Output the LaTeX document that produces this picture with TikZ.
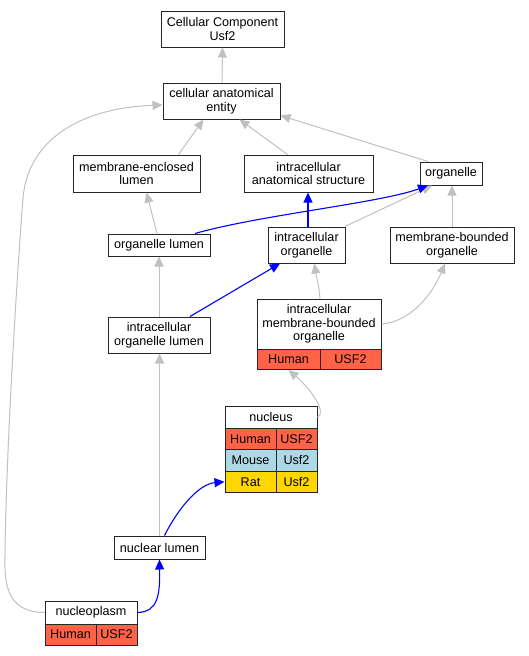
\documentclass[tikz,border=0pt]{standalone}
\usepackage{fontspec}
\setmainfont{Liberation Sans}
\usetikzlibrary{arrows.meta}
\definecolor{edgegray}{RGB}{192,192,192}
\definecolor{tomatored}{RGB}{255,99,71}
\definecolor{lblue}{RGB}{173,216,230}
\definecolor{goldy}{RGB}{255,215,0}
\begin{document}
\begin{tikzpicture}[x=1pt,y=-1pt,
  box/.style={draw=black!85, line width=1pt, fill=white, inner sep=0pt, align=center, font=\fontsize{12.6}{13.5}\selectfont},
  hcell/.style={box, fill=tomatored},
  mcell/.style={box, fill=lblue},
  rcell/.style={box, fill=goldy},
  gedge/.style={draw=edgegray, line width=1pt, -{Triangle[length=10pt,width=9pt]}},
  bedge/.style={draw=blue, line width=1.1pt, -{Triangle[length=10pt,width=9pt]}}]
\path[use as bounding box] (0,0) rectangle (529,656);

% plain nodes
\node[box, minimum width=123pt, minimum height=36pt] (cc) at (222.5,29) {Cellular Component\\Usf2};
\node[box, minimum width=117pt, minimum height=36pt] (cae) at (221.5,101) {cellular anatomical\\entity};
\node[box, minimum width=127pt, minimum height=37pt] (mel) at (136.5,173.5) {membrane-enclosed\\lumen};
\node[box, minimum width=129pt, minimum height=37pt] (ias) at (308.5,173.5) {intracellular\\anatomical structure};
\node[box, minimum width=62pt, minimum height=23pt] (org) at (451,173.5) {organelle};
\node[box, minimum width=102pt, minimum height=22pt] (ol) at (159,245) {organelle lumen};
\node[box, minimum width=77pt, minimum height=36pt] (io) at (306.5,245) {intracellular\\organelle};
\node[box, minimum width=124pt, minimum height=36pt] (mbo) at (452,245) {membrane-bounded\\organelle};
\node[box, minimum width=102pt, minimum height=36pt] (iol) at (159,335) {intracellular\\organelle lumen};
\node[box, minimum width=91pt, minimum height=23pt] (nl) at (159.5,547.5) {nuclear lumen};

% record: intracellular membrane-bounded organelle
\node[box, minimum width=124pt, minimum height=50pt] (imbo) at (319,324) {intracellular\\membrane-bounded\\organelle};
\node[hcell, minimum width=63pt, minimum height=20.5pt] (imboH) at (288.5,359.25) {Human};
\node[hcell, minimum width=61pt, minimum height=20.5pt] (imboU) at (350.5,359.25) {USF2};

% record: nucleus
\node[box, minimum width=92pt, minimum height=22pt] (nuc) at (271,417) {nucleus};
\node[hcell, minimum width=51pt, minimum height=21.5pt] (nucHL) at (250.5,438.75) {Human};
\node[hcell, minimum width=41pt, minimum height=21.5pt] (nucHR) at (296.5,438.75) {USF2};
\node[mcell, minimum width=51pt, minimum height=21.5pt] (nucML) at (250.5,460.25) {Mouse};
\node[mcell, minimum width=41pt, minimum height=21.5pt] (nucMR) at (296.5,460.25) {Usf2};
\node[rcell, minimum width=51pt, minimum height=21.5pt] (nucRL) at (250.5,481.75) {Rat};
\node[rcell, minimum width=41pt, minimum height=21.5pt] (nucRR) at (296.5,481.75) {Usf2};

% record: nucleoplasm
\node[box, minimum width=92pt, minimum height=23pt] (np) at (91,612.5) {nucleoplasm};
\node[hcell, minimum width=51pt, minimum height=21pt] (npH) at (70.5,634.5) {Human};
\node[hcell, minimum width=41pt, minimum height=21pt] (npU) at (116.5,634.5) {USF2};

% gray edges
\draw[gedge] ([xshift=0.5pt]cae.north) -- (cc.south);
\draw[gedge] ([xshift=42pt]mel.north) -- ([xshift=-18pt]cae.south);
\draw[gedge] ([xshift=-21pt]ias.north) -- ([xshift=18pt]cae.south);
\draw[gedge] ([xshift=-23pt]org.north) -- ([yshift=4pt]cae.south east);
\draw[gedge] (np.west) .. controls (10,612) and (4,590) .. (5,555)
  .. controls (6,450) and (18,260) .. (23,198)
  .. controls (28,140) and (80,108) .. ([yshift=-4pt]cae.west);
\draw[gedge] ([xshift=-2pt]ol.north) -- ([xshift=10pt]mel.south);
\draw[gedge] ([xshift=38.5pt]io.north) -- ([xshift=-19pt]org.south);
\draw[gedge] (mbo.north) -- ([xshift=1pt]org.south);
\draw[gedge] (iol.north) -- (ol.south);
\draw[gedge] ([xshift=1pt]imbo.north) .. controls (319,285) and (316,275) .. ([xshift=8pt]io.south);
\draw[gedge] (imbo.east) .. controls (410,322) and (432,295) .. ([xshift=-7pt]mbo.south);
\draw[gedge] (nuc.east) .. controls (327,413) and (312,390) .. (imboH.south);
\draw[gedge] (nl.north) -- (nl.north |- iol.south);

% blue edges
\draw[bedge] ([xshift=36pt]ol.north) .. controls (260,215) and (380,203) .. ([xshift=-23pt]org.south);
\draw[bedge] ([xshift=1.5pt]io.north) -- ([xshift=-0.5pt]ias.south);
\draw[bedge] ([xshift=31pt]iol.north) -- ([xshift=-26.5pt]io.south);
\draw[bedge] ([xshift=5pt]nl.north) .. controls (180,505) and (200,484) .. (nucRL.west);
\draw[bedge] (np.east) .. controls (158,612) and (160,595) .. (nl.south);
\end{tikzpicture}
\end{document}
